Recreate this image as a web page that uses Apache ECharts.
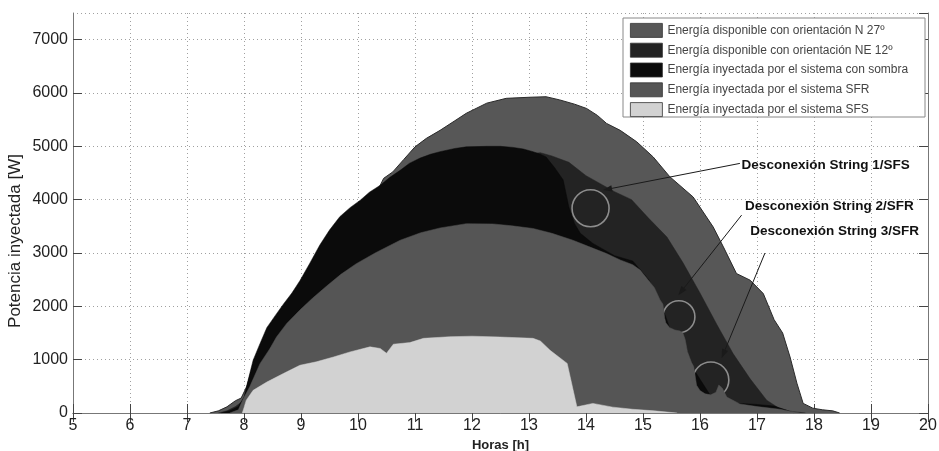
<!DOCTYPE html>
<html><head><meta charset="utf-8">
<script src="https://cdn.jsdelivr.net/npm/echarts@6/dist/echarts.min.js"></script>
<style>html,body{margin:0;padding:0;background:#fff}#c{width:939px;height:451px}</style>
</head><body><div id="c"></div>
<script>
// ---- data (hours, W) ----
const seriesNames = [
  'Energía disponible con orientación N 27º',
  'Energía disponible con orientación NE 12º',
  'Energía inyectada por el sistema con sombra',
  'Energía inyectada por el sistema SFR',
  'Energía inyectada por el sistema SFS'
];
const n27Hours = [7.40,7.55,7.70,7.85,7.95,8.05,8.16,8.40,8.70,9.00,9.30,9.70,10.04,10.30,10.39,10.45,10.61,10.80,11.00,11.20,11.44,11.70,11.90,12.26,12.60,13.00,13.30,13.54,13.80,14.01,14.20,14.36,14.60,14.89,15.18,15.47,15.88,16.23,16.41,16.64,16.88,17.11,17.30,17.45,17.58,17.70,17.81,17.98,18.15,18.33,18.45];
const n27Power = [0,40,115,230,280,500,900,1550,2000,2400,3000,3600,3950,4150,4270,4400,4520,4750,4990,5150,5300,5480,5620,5810,5900,5920,5930,5870,5790,5710,5580,5430,5300,5085,4800,4430,4050,3490,3115,2615,2490,2240,1750,1500,1050,560,180,90,60,40,0];
const ne12Hours = [7.55,7.70,7.85,7.95,8.05,8.50,9.50,10.50,11.50,12.50,13.00,13.20,13.40,13.70,14.00,14.25,14.50,14.80,15.10,15.42,15.70,16.00,16.30,16.58,16.88,17.17,17.40,17.60,17.85];
const ne12Power = [0,40,120,200,300,1000,3200,4200,4800,4900,4860,4880,4820,4700,4450,4300,4150,4000,3650,3300,2820,2250,1650,1115,640,240,80,30,0];
const sombraHours = [7.60,7.75,7.90,8.00,8.08,8.16,8.28,8.40,8.55,8.69,8.84,8.98,9.15,9.33,9.50,9.68,9.86,10.04,10.20,10.39,10.56,10.74,10.90,11.09,11.27,11.44,11.70,11.90,12.26,12.50,12.72,12.90,13.07,13.20,13.30,13.45,13.60,13.70,13.80,13.90,14.12,14.50,14.82,15.10,15.30,15.50,15.90,16.20,16.50,17.00,17.30,17.50,17.65];
const sombraPower = [0,40,120,300,650,990,1300,1600,1830,2040,2250,2480,2800,3150,3430,3680,3850,3990,4140,4270,4420,4550,4680,4780,4850,4900,4960,4990,5000,5000,4980,4950,4900,4850,4800,4600,4370,3860,3550,3370,3180,2950,2850,2500,2100,1500,800,300,190,160,130,60,0];
const sfrHours = [7.75,7.90,7.99,8.10,8.28,8.45,8.57,8.75,8.98,9.20,9.45,9.70,9.97,10.30,10.74,11.10,11.44,11.90,12.37,12.70,13.07,13.40,13.77,14.05,14.36,14.60,14.82,14.95,15.20,15.30,15.35,15.38,15.40,15.47,15.56,15.65,15.70,15.74,15.78,15.85,15.89,15.94,16.00,16.09,16.19,16.28,16.33,16.39,16.47,16.70,17.00,17.40,17.60,17.75];
const sfrPower = [0,60,270,490,925,1200,1425,1680,1930,2150,2380,2600,2800,3000,3240,3380,3470,3550,3545,3510,3460,3370,3240,3120,2990,2870,2780,2680,2350,2120,2040,1780,1690,1600,1556,1538,1500,1380,1150,950,870,520,420,360,340,390,525,470,300,170,120,70,30,0];
const sfsHours = [7.97,8.00,8.04,8.16,8.40,8.69,8.98,9.27,9.57,9.86,10.21,10.39,10.50,10.62,10.91,11.15,11.61,12.00,12.49,13.07,13.20,13.37,13.67,13.84,14.12,14.47,14.82,15.20,15.60];
const sfsPower = [0,100,240,425,580,740,895,960,1050,1145,1240,1210,1120,1290,1320,1400,1430,1440,1425,1400,1350,1175,930,115,180,110,70,40,0];

// annotations (data coordinates)
const noteTexts = ['Desconexión String 1/SFS','Desconexión String 2/SFR','Desconexión String 3/SFR'];
const notePos = [[16.73,4650],[16.79,3870],[16.88,3410]];
const arrowFrom = [[16.70,4680],[16.73,3710],[17.14,3000]];
const arrowTo = [[14.30,4180],[15.62,2210],[16.38,1030]];
const circleCenters = [[14.08,3838],[15.63,1806],[16.19,619]];
const circleDiamPx = [37,32,36];

const fills = ['#575757','#232323','#0b0b0b','#555555','#d2d2d2'];
const zs = [2,3,4,6,7];
const hoursList = [n27Hours, ne12Hours, sombraHours, sfrHours, sfsHours];
const powerList = [n27Power, ne12Power, sombraPower, sfrPower, sfsPower];

const chart = echarts.init(document.getElementById('c'), null, {renderer:'canvas'});
const FONT = 'Arial, "Liberation Sans", sans-serif';

function axisCommon(show){
  return {
    axisLine:{show:true, lineStyle:{color:'#777', width:1}},
    axisTick:{show:true, inside:true, length:9, lineStyle:{color:'#444', width:1}},
    axisLabel:{show:show, color:'#222', fontSize:16, fontFamily:FONT},
    splitLine:{show:show, lineStyle:{color:'#a0a0a0', type:[1,3], width:1}}
  };
}

const areaSeries = seriesNames.map((name,i)=>({
  name, type:'line', z:zs[i], symbol:'none', smooth:false, animation:false,
  data: hoursList[i].map((h,k)=>[h, powerList[i][k]]),
  color: fills[i],
  itemStyle:{color:fills[i]},
  lineStyle:{color: i===0 ? '#2a2a2a' : fills[i], width: i===0 ? 1 : 0.5},
  areaStyle:{color:fills[i], opacity:1}
}));
// circles marking disconnections (between the shadow layer and the SFR layer)
const circleSeries = {
  name:'circles', type:'scatter', z:5, silent:true, animation:false,
  symbol:'circle',
  data: circleCenters.map((c,i)=>({value:c, symbolSize:circleDiamPx[i]})),
  itemStyle:{color:'rgba(0,0,0,0)', borderColor:'#a8a8a8', borderWidth:1.6}
};
const series = [areaSeries[0], areaSeries[1], areaSeries[2], circleSeries, areaSeries[3], areaSeries[4]];

chart.setOption({
  animation:false,
  backgroundColor:'#fff',
  grid:{left:73, right:11, top:13, bottom:38, containLabel:false, outerBoundsMode:'none'},
  xAxis:[
    Object.assign({type:'value', min:5, max:20, interval:1, position:'bottom',
      name:'Horas [h]', nameLocation:'middle', nameGap:21,
      nameTextStyle:{fontSize:13, fontWeight:'bold', color:'#222', fontFamily:FONT}}, axisCommon(true),
      {axisLabel:{color:'#222', fontSize:16, fontFamily:FONT, margin:5, formatter:v=>String(v)}}),
    Object.assign({type:'value', min:5, max:20, interval:1, position:'top'}, axisCommon(false))
  ],
  yAxis:[
    Object.assign({type:'value', min:0, max:7500, interval:1000, position:'left'}, axisCommon(true),
      {axisLabel:{color:'#222', fontSize:16, fontFamily:FONT, margin:5, showMaxLabel:false, formatter:v=>String(v)}}),
    Object.assign({type:'value', min:0, max:7500, interval:1000, position:'right'}, axisCommon(false))
  ],
  legend:{
    orient:'vertical', left:630, top:23, padding:0, itemWidth:32, itemHeight:14, itemGap:5,
    icon:'rect', z:20, selectedMode:false,
    textStyle:{fontSize:12, color:'#444', fontFamily:FONT},
    itemStyle:{borderColor:'#333', borderWidth:0.8},
    data: seriesNames.map((n,i)=>({name:n, itemStyle:{color:fills[i], borderColor:'#333', borderWidth:0.8}}))
  },
  series
});

const px = p => chart.convertToPixel({gridIndex:0}, p);
const graphics = [
  {type:'rect', z:15, shape:{x:623, y:18, width:302, height:99}, style:{fill:'#fff', stroke:'#888', lineWidth:1}},
  {type:'text', z:20, x:15, y:241, rotation:Math.PI/2,
   style:{text:'Potencia inyectada [W]', align:'center', verticalAlign:'middle', font:'17px '+FONT, fill:'#222'}}
];
arrowFrom.forEach((f,i)=>{
  const a = px(f), b = px(arrowTo[i]);
  const dx=b[0]-a[0], dy=b[1]-a[1], L=Math.hypot(dx,dy), ux=dx/L, uy=dy/L;
  const hl=9, hw=3.2;
  const bx=b[0]-ux*hl, by=b[1]-uy*hl;
  graphics.push({type:'line', z:12, shape:{x1:a[0], y1:a[1], x2:bx, y2:by}, style:{stroke:'#1a1a1a', lineWidth:1}});
  graphics.push({type:'polygon', z:12, shape:{points:[[b[0],b[1]],[bx-uy*hw,by+ux*hw],[bx+uy*hw,by-ux*hw]]}, style:{fill:'#1a1a1a'}});
});
notePos.forEach((p0,i)=>{
  const p = px(p0);
  graphics.push({type:'text', z:12, x:p[0], y:p[1],
    style:{text:noteTexts[i], align:'left', verticalAlign:'middle', font:'bold 13.5px '+FONT, fill:'#111'}});
});
chart.setOption({graphic:graphics});
</script>
</body></html>
